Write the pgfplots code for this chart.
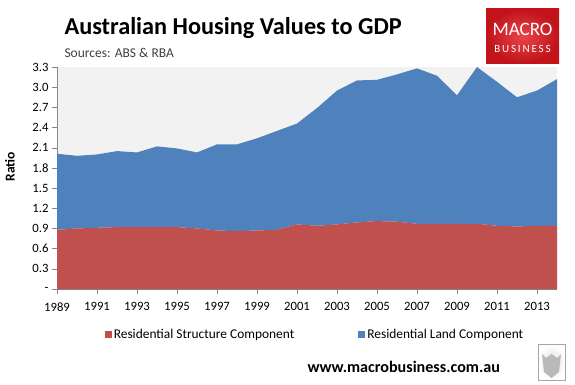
\documentclass[border=0pt]{standalone}
\usepackage{pgfplots}
\pgfplotsset{compat=1.18}
\usepackage{pgfplotstable}
\usepackage{fontspec}
\setmainfont{Carlito}
\definecolor{cred}{HTML}{C0504D}
\definecolor{cblue}{HTML}{4F81BD}
\definecolor{cbg}{HTML}{F2F2F2}
\definecolor{caxis}{HTML}{868686}
\definecolor{logored}{HTML}{E3161E}
\pgfplotstableread{
year structure land
1989 0.88 1.13
1990 0.90 1.08
1991 0.91 1.09
1992 0.92 1.13
1993 0.92 1.11
1994 0.92 1.20
1995 0.92 1.17
1996 0.90 1.13
1997 0.87 1.28
1998 0.86 1.29
1999 0.87 1.37
2000 0.88 1.47
2001 0.96 1.50
2002 0.94 1.75
2003 0.96 1.99
2004 0.99 2.11
2005 1.01 2.10
2006 1.00 2.19
2007 0.97 2.31
2008 0.97 2.20
2009 0.97 1.91
2010 0.97 2.33
2011 0.94 2.14
2012 0.93 1.92
2013 0.94 2.01
2014 0.94 2.18
}\datatable
\begin{document}
\begin{tikzpicture}[x=1pt,y=1pt]
\useasboundingbox (0,0) rectangle (575,384);
\begin{axis}[
  at={(57pt,95pt)}, anchor=south west,
  scale only axis, width=500pt, height=222pt,
  xmin=1989, xmax=2014, ymin=0, ymax=3.3,
  stack plots=y,
  axis background/.style={fill=cbg},
  axis x line*=bottom, axis y line*=left,
  axis line style={draw=caxis},
  every tick/.style={draw=caxis},
  tick align=outside, major tick length=5pt,
  xtick={1989,1991,...,2013},
  ytick={0,0.3,0.6,0.9,1.2,1.5,1.8,2.1,2.4,2.7,3.0,3.3},
  yticklabels={-,0.3,0.6,0.9,1.2,1.5,1.8,2.1,2.4,2.7,3.0,3.3},
  /pgf/number format/1000 sep={},
  /pgf/number format/assume math mode=true,
  tick label style={font=\fontsize{12.7}{14}\selectfont},
  xticklabel style={yshift=-5pt},
  ylabel={Ratio},
  ylabel style={font=\fontsize{13.5}{15}\selectfont\bfseries, at={(axis description cs:-0.094,0.55)}, anchor=center},
  legend style={at={(axis description cs:0.516,-0.207)}, anchor=center, draw=none, fill=none,
    font=\fontsize{13.4}{15}\selectfont, legend columns=2,
    /tikz/every even column/.append style={column sep=62pt}},
  legend image code/.code={\fill[#1] (0pt,-3.5pt) rectangle (7pt,3.5pt);},
]
\addplot[fill=cred, draw=none] table[x=year, y=structure] {\datatable} \closedcycle;
\addlegendentry{Residential Structure Component}
\addplot[fill=cblue, draw=none] table[x=year, y=land] {\datatable} \closedcycle;
\addlegendentry{Residential Land Component}
\end{axis}
% title
\node[anchor=west, font=\fontsize{24.3}{29}\selectfont\bfseries] at (61,356) {Australian Housing Values to GDP};
\node[anchor=west, font=\fontsize{13.5}{16}\selectfont, text=black!75] at (61,331) {Sources: ABS \& RBA};
% logo
\shade[inner color=logored!80!white, outer color=logored!85!black] (486,321) rectangle (559,375);
\node[text=white, font=\fontsize{19}{20}\selectfont] at (522.5,355) {MACRO};
\node[text=white, font=\fontsize{11}{12}\selectfont] at (522.5,335) {B\,U\,S\,I\,N\,E\,S\,S};
% website
\node[anchor=west, font=\fontsize{16.1}{19}\selectfont\bfseries] at (304,17) {www.macrobusiness.com.au};
% wolf box
\shade[draw=gray!70, line width=1pt, inner color=gray!25, outer color=white] (538,4) rectangle (565,40);
\fill[gray!55] (544,12) -- (551.5,6) -- (559,12) -- (561,30) -- (557,26) -- (551.5,30) -- (546,26) -- (542,30) -- cycle;
\end{tikzpicture}
\end{document}
